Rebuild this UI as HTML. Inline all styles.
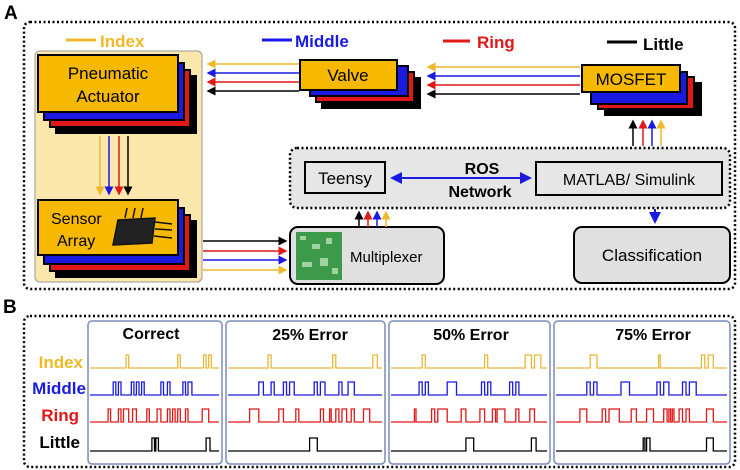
<!DOCTYPE html>
<html><head><meta charset="utf-8"><style>
html,body{margin:0;padding:0;background:#fff;}
svg{display:block;font-family:"Liberation Sans",Arial,sans-serif;}
</style></head><body>
<svg id="s" width="740" height="470" viewBox="0 0 740 470" xmlns="http://www.w3.org/2000/svg">
<defs>
<marker id="ay" markerWidth="6" markerHeight="6" refX="5" refY="3" orient="auto"><path d="M0,0L6,3L0,6z" fill="#f0b92a"/></marker>
<marker id="ab" markerWidth="6" markerHeight="6" refX="5" refY="3" orient="auto"><path d="M0,0L6,3L0,6z" fill="#1a1ae0"/></marker>
<marker id="ar" markerWidth="6" markerHeight="6" refX="5" refY="3" orient="auto"><path d="M0,0L6,3L0,6z" fill="#e01818"/></marker>
<marker id="ak" markerWidth="6" markerHeight="6" refX="5" refY="3" orient="auto"><path d="M0,0L6,3L0,6z" fill="#000"/></marker>
<marker id="abs" markerWidth="6" markerHeight="6" refX="1" refY="3" orient="auto"><path d="M6,0L0,3L6,6z" fill="#1a1ae0"/></marker>
</defs>
<text x="4" y="19" font-size="19" font-weight="bold">A</text>
<text x="3" y="313" font-size="19" font-weight="bold">B</text>
<rect x="24" y="22" width="711" height="267" rx="6" fill="none" stroke="#000" stroke-width="2.5" stroke-dasharray="2,2.5"/>
<rect x="24" y="316" width="711" height="151" rx="6" fill="none" stroke="#000" stroke-width="2.5" stroke-dasharray="2,2.5"/>
<line x1="66" y1="40" x2="96" y2="40" stroke="#f0b92a" stroke-width="3"/><text x="100" y="47" font-size="17" font-weight="bold" fill="#f0b92a">Index</text>
<line x1="262" y1="40" x2="292" y2="40" stroke="#1a1ae0" stroke-width="3"/><text x="295" y="47" font-size="17" font-weight="bold" fill="#1a1ae0">Middle</text>
<line x1="443" y1="41" x2="470" y2="41" stroke="#e01818" stroke-width="3"/><text x="477" y="48" font-size="17" font-weight="bold" fill="#e01818">Ring</text>
<line x1="607" y1="42" x2="637" y2="42" stroke="#000" stroke-width="3"/><text x="643" y="50" font-size="17" font-weight="bold">Little</text>
<rect x="35" y="51" width="167" height="231" rx="5" fill="#fbe7ab" stroke="#999" stroke-width="1"/>
<g stroke="#000" stroke-width="2">
<rect x="56" y="76" width="140" height="57" fill="#000"/>
<rect x="50" y="70" width="140" height="57" fill="#e01818"/>
<rect x="44" y="63" width="140" height="57" fill="#1a1ae0"/>
<rect x="38" y="55" width="140" height="57" fill="#f7b900"/>
<rect x="56" y="221" width="140" height="56" fill="#000"/>
<rect x="50" y="215" width="140" height="56" fill="#e01818"/>
<rect x="44" y="208" width="140" height="56" fill="#1a1ae0"/>
<rect x="38" y="200" width="140" height="55" fill="#f7b900"/>
</g>
<text x="108" y="79" font-size="17" text-anchor="middle">Pneumatic</text>
<text x="108" y="102" font-size="17" text-anchor="middle">Actuator</text>
<text x="51" y="224" font-size="16">Sensor</text>
<text x="57" y="246" font-size="16">Array</text>
<g stroke="#111" stroke-width="1.5"><path d="M118,220L155,218L152,243L113,245z" fill="#222"/><line x1="125" y1="218" x2="127" y2="208"/><line x1="133" y1="218" x2="135" y2="208"/><line x1="141" y1="218" x2="143" y2="208"/><line x1="155" y1="222" x2="172" y2="224"/><line x1="155" y1="229" x2="172" y2="230"/><line x1="154" y1="236" x2="172" y2="238"/></g>
<line x1="100" y1="136" x2="100" y2="194" stroke="#f0b92a" stroke-width="1.5" marker-end="url(#ay)"/>
<line x1="109" y1="136" x2="109" y2="194" stroke="#1a1ae0" stroke-width="1.5" marker-end="url(#ab)"/>
<line x1="119" y1="136" x2="119" y2="194" stroke="#e01818" stroke-width="1.5" marker-end="url(#ar)"/>
<line x1="128" y1="136" x2="128" y2="194" stroke="#000" stroke-width="1.5" marker-end="url(#ak)"/>
<g stroke="#000" stroke-width="2">
<rect x="322" y="78" width="98" height="30" fill="#000"/>
<rect x="316" y="72" width="98" height="30" fill="#e01818"/>
<rect x="310" y="66" width="98" height="30" fill="#1a1ae0"/>
<rect x="300" y="60" width="97" height="30" fill="#f7b900"/>
<rect x="605" y="83" width="96" height="32" fill="#000"/>
<rect x="598" y="77" width="96" height="32" fill="#e01818"/>
<rect x="591" y="72" width="96" height="32" fill="#1a1ae0"/>
<rect x="582" y="65" width="98" height="27" fill="#f7b900"/>
</g>
<text x="348" y="81" font-size="17" text-anchor="middle">Valve</text>
<text x="631" y="85" font-size="17" text-anchor="middle">MOSFET</text>
<g stroke-width="1.5">
<line x1="299" y1="64" x2="208" y2="64" stroke="#f0b92a" marker-end="url(#ay)"/>
<line x1="299" y1="73" x2="208" y2="73" stroke="#1a1ae0" marker-end="url(#ab)"/>
<line x1="299" y1="82" x2="208" y2="82" stroke="#e01818" marker-end="url(#ar)"/>
<line x1="299" y1="91" x2="208" y2="91" stroke="#000" marker-end="url(#ak)"/>
<line x1="580" y1="67" x2="428" y2="67" stroke="#f0b92a" marker-end="url(#ay)"/>
<line x1="580" y1="76" x2="428" y2="76" stroke="#1a1ae0" marker-end="url(#ab)"/>
<line x1="580" y1="85" x2="428" y2="85" stroke="#e01818" marker-end="url(#ar)"/>
<line x1="580" y1="94" x2="428" y2="94" stroke="#000" marker-end="url(#ak)"/>
<line x1="633" y1="146" x2="633" y2="121" stroke="#000" marker-end="url(#ak)"/>
<line x1="643" y1="146" x2="643" y2="121" stroke="#e01818" marker-end="url(#ar)"/>
<line x1="652" y1="146" x2="652" y2="121" stroke="#1a1ae0" marker-end="url(#ab)"/>
<line x1="661" y1="146" x2="661" y2="121" stroke="#f0b92a" marker-end="url(#ay)"/>
</g>
<rect x="290" y="148" width="440" height="60" rx="7" fill="#e6e6e6" stroke="#000" stroke-width="2.5" stroke-dasharray="2,2.5"/>
<rect x="305" y="162" width="80" height="31" fill="#e6e6e6" stroke="#000" stroke-width="2"/>
<text x="345" y="184" font-size="17" text-anchor="middle">Teensy</text>
<rect x="536" y="162" width="186" height="33" fill="#e6e6e6" stroke="#000" stroke-width="2"/>
<text x="629" y="185" font-size="16" text-anchor="middle">MATLAB/ Simulink</text>
<text x="482" y="174" font-size="16" font-weight="bold" text-anchor="middle">ROS</text>
<text x="480" y="197" font-size="16" font-weight="bold" text-anchor="middle">Network</text>
<line x1="392" y1="178" x2="530" y2="178" stroke="#1a1ae0" stroke-width="2" marker-end="url(#ab)" marker-start="url(#abs)"/>
<rect x="290" y="227" width="154" height="57" rx="8" fill="#e0e0e0" stroke="#000" stroke-width="2"/>
<rect x="296" y="232" width="46" height="48" fill="#3d9a4a"/>
<g fill="#9fd3a0"><rect x="300" y="236" width="6" height="4"/><rect x="312" y="244" width="8" height="5"/><rect x="326" y="238" width="6" height="6"/><rect x="302" y="262" width="10" height="5"/><rect x="320" y="258" width="8" height="8"/><rect x="332" y="268" width="6" height="6"/></g>
<text x="350" y="262" font-size="15">Multiplexer</text>
<g stroke-width="1.5">
<line x1="203" y1="241" x2="286" y2="241" stroke="#000" marker-end="url(#ak)"/>
<line x1="203" y1="251" x2="286" y2="251" stroke="#e01818" marker-end="url(#ar)"/>
<line x1="203" y1="260" x2="286" y2="260" stroke="#1a1ae0" marker-end="url(#ab)"/>
<line x1="203" y1="270" x2="286" y2="270" stroke="#f0b92a" marker-end="url(#ay)"/>
<line x1="359" y1="227" x2="359" y2="212" stroke="#000" marker-end="url(#ak)"/>
<line x1="368" y1="227" x2="368" y2="212" stroke="#e01818" marker-end="url(#ar)"/>
<line x1="377" y1="227" x2="377" y2="212" stroke="#1a1ae0" marker-end="url(#ab)"/>
<line x1="386" y1="227" x2="386" y2="212" stroke="#f0b92a" marker-end="url(#ay)"/>
</g>
<line x1="655" y1="209" x2="655" y2="222" stroke="#1a1ae0" stroke-width="2" marker-end="url(#ab)"/>
<rect x="574" y="227" width="156" height="56" rx="8" fill="#e0e0e0" stroke="#000" stroke-width="2"/>
<text x="652" y="261" font-size="17" text-anchor="middle">Classification</text>
<g fill="#fff" stroke="#7a8cbc" stroke-width="1.5">
<rect x="88" y="321" width="134" height="143" rx="4"/>
<rect x="226" y="321" width="159" height="143" rx="4"/>
<rect x="389" y="321" width="161" height="143" rx="4"/>
<rect x="554" y="321" width="176" height="143" rx="4"/>
</g>
<g font-size="16" font-weight="bold" text-anchor="middle">
<text x="151" y="339">Correct</text><text x="310" y="340">25%  Error</text><text x="471" y="340">50%  Error</text><text x="653" y="340">75%  Error</text>
</g>
<g font-size="17" font-weight="bold" text-anchor="end">
<text x="83" y="368" fill="#f0b92a">Index</text>
<text x="86" y="394" fill="#1a1ae0">Middle</text>
<text x="79" y="421" fill="#e01818">Ring</text>
<text x="80" y="448" fill="#000">Little</text>
</g>
<g id="w" fill="none" stroke-width="1.3"></g>
</svg>
<script>
var panels=[[90,219],[228,382],[391,547],[556,727]];
var rows=[[368,"#e8b83a"],[395,"#1a1ae0"],[422,"#e01818"],[451,"#000"]];
var P=[
 [[[.28,.3],[.68,.7],[.88,.9],[.92,.94]],[[.18,.2],[.22,.24],[.32,.34],[.36,.38],[.4,.42],[.55,.57],[.6,.62],[.72,.74],[.76,.79]],[[.14,.16],[.22,.24],[.26,.3],[.33,.36],[.44,.46],[.52,.55],[.6,.62],[.64,.66],[.68,.7],[.74,.76],[.87,.92]],[[.48,.5],[.51,.53],[.9,.93]]],
 [[[.26,.28],[.68,.7],[.94,.97]],[[.2,.23],[.28,.3],[.36,.38],[.4,.43],[.56,.58],[.6,.63],[.72,.74],[.78,.82]],[[.14,.2],[.33,.36],[.44,.46],[.6,.62],[.66,.67],[.7,.72],[.74,.77],[.8,.82],[.88,.92]],[[.53,.58]]],
 [[[.2,.22],[.6,.62],[.86,.9],[.92,.96]],[[.18,.2],[.22,.24],[.36,.42],[.58,.6],[.62,.64],[.76,.78],[.8,.82]],[[.15,.16],[.26,.28],[.3,.36],[.45,.48],[.57,.6],[.65,.67],[.68,.73],[.8,.82],[.89,.92]],[[.48,.53],[.9,.93]]],
 [[[.2,.24],[.6,.61],[.85,.87],[.89,.92]],[[.18,.2],[.22,.24],[.38,.43],[.59,.61],[.63,.66],[.74,.76],[.78,.82]],[[.14,.18],[.27,.29],[.31,.37],[.44,.47],[.53,.57],[.63,.65],[.66,.67],[.68,.69],[.72,.74],[.76,.78],[.88,.92]],[[.51,.52],[.53,.55],[.88,.92]]]
];
var g=document.getElementById("w"),h=13,s="";
panels.forEach(function(pp,i){var a=pp[0],b=pp[1],W=b-a;
rows.forEach(function(r,j){var y=r[0],d="M"+a+","+y;
P[i][j].forEach(function(q){var x1=(a+q[0]*W).toFixed(1),x2=(a+q[1]*W).toFixed(1);d+="L"+x1+","+y+"L"+x1+","+(y-h)+"L"+x2+","+(y-h)+"L"+x2+","+y;});
d+="L"+b+","+y;s+='<path d="'+d+'" stroke="'+r[1]+'"/>';});});
g.innerHTML=s;
</script>
</body></html>
